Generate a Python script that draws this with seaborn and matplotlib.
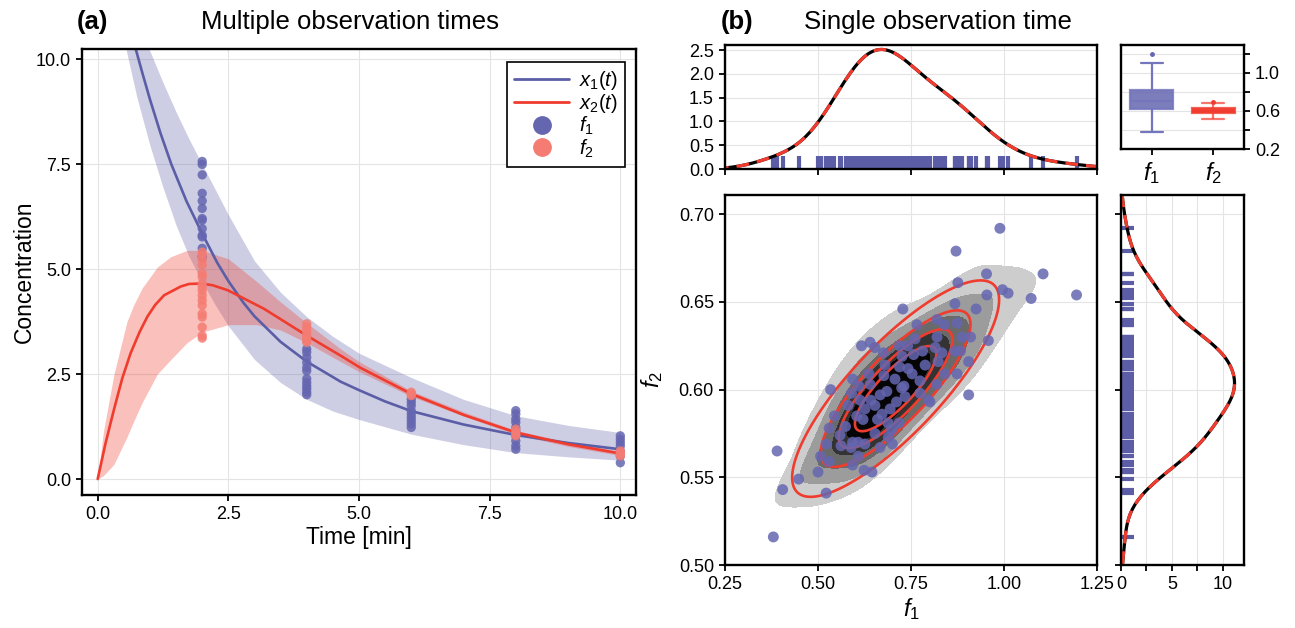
import numpy as np
import pandas as pd
import matplotlib
matplotlib.use("Agg")
import matplotlib.pyplot as plt
import seaborn as sns
from matplotlib.lines import Line2D
from matplotlib.colors import ListedColormap

# ---- panel (a): model curves and bands ----
t_x1 = [0.6, 0.73, 0.85, 1.0, 1.2, 1.41, 1.7, 2.0, 2.29, 2.5, 2.79, 3.0, 3.5, 4.0, 4.65, 5.0, 5.5, 6.0, 7.0, 8.0, 9.0, 10.0]
x1_mean = [10.85, 10.24, 9.7, 9.05, 8.25, 7.5, 6.62, 5.85, 5.15, 4.72, 4.2, 3.88, 3.27, 2.8, 2.32, 2.12, 1.85, 1.62, 1.30, 1.05, 0.86, 0.71]

t_x2 = [0, 0.15, 0.31, 0.47, 0.63, 0.8, 0.95, 1.1, 1.27, 1.59, 1.75, 1.97, 2.2, 2.49, 3.18, 4.0, 4.65, 5.03, 6.0, 7.0, 8.0, 9.0, 10.0]
x2_mean = [0, 0.85, 1.65, 2.4, 3.0, 3.5, 3.87, 4.15, 4.38, 4.59, 4.65, 4.66, 4.62, 4.50, 4.06, 3.42, 2.94, 2.65, 2.03, 1.53, 1.11, 0.83, 0.61]

t_band1 = [0.55, 0.75, 1.0, 1.25, 1.5, 1.75, 2.0, 2.25, 2.5, 3.0, 3.5, 4.0, 4.5, 5.0, 6.0, 7.0, 8.0, 9.0, 10.0]
x1_lo = [10.2, 9.1, 7.95, 6.95, 6.05, 5.3, 4.7, 4.15, 3.65, 2.85, 2.3, 1.9, 1.62, 1.42, 1.07, 0.82, 0.63, 0.53, 0.45]
x1_hi = [11.6, 10.9, 10.2, 9.45, 8.75, 8.1, 7.5, 6.9, 6.3, 5.2, 4.45, 3.87, 3.4, 3.0, 2.42, 1.9, 1.51, 1.28, 1.11]

t_band2 = [0, 0.11, 0.31, 0.56, 0.69, 0.85, 1.14, 1.4, 1.71, 2.0, 2.5, 3.05, 3.5, 4.0, 4.65, 5.0, 6.0, 7.0, 8.0, 9.0, 10.0]
x2_lo = [0, 0.08, 0.35, 1.0, 1.38, 1.82, 2.5, 2.85, 3.25, 3.5, 3.68, 3.68, 3.55, 3.25, 2.8, 2.56, 1.97, 1.5, 1.06, 0.78, 0.56]
x2_hi = [0, 1.13, 2.49, 3.75, 4.15, 4.55, 5.05, 5.3, 5.45, 5.45, 5.25, 4.70, 4.22, 3.72, 3.1, 2.8, 2.1, 1.6, 1.16, 0.88, 0.66]

# observations per time point
obs_f1 = {
    2: [7.57, 7.50, 7.25, 6.81, 6.63, 6.45, 6.21, 6.17, 5.97, 5.81, 5.77, 5.50, 5.30],
    4: [3.10, 3.02, 2.90, 2.78, 2.66, 2.58, 2.39, 2.30, 2.22, 2.15, 2.07, 2.01],
    6: [1.91, 1.83, 1.75, 1.63, 1.55, 1.47, 1.39, 1.31, 1.23],
    8: [1.63, 1.55, 1.43, 1.35, 1.23, 1.15, 1.03, 0.91, 0.79, 0.71],
    10: [1.03, 0.95, 0.87, 0.79, 0.67, 0.55, 0.39],
}
obs_f2 = {
    2: [5.41, 5.33, 5.22, 5.10, 4.90, 4.82, 4.66, 4.58, 4.50, 4.38, 4.26, 4.14, 3.94, 3.86, 3.62, 3.42, 3.36],
    4: [3.70, 3.62, 3.54, 3.46, 3.38, 3.30, 3.26],
    6: [2.07, 2.03, 1.99],
    8: [1.19, 1.13, 1.07, 1.03],
    10: [0.67, 0.63, 0.59, 0.55],
}

# ---- panel (b): single observation time samples ----
f1_obs = [0.989, 0.871, 0.953, 1.105, 1.195, 1.073, 0.876, 0.954, 0.996, 1.011,
          0.728, 0.868, 0.925, 0.874, 0.766, 0.820, 0.840, 0.887, 0.910, 0.958,
          0.820, 0.883, 0.905, 0.874, 0.905, 0.841, 0.819, 0.801, 0.833, 0.815,
          0.617, 0.640, 0.653, 0.676, 0.719, 0.741, 0.757, 0.781, 0.726, 0.534,
          0.593, 0.637, 0.677, 0.719, 0.742, 0.774, 0.731, 0.685, 0.642, 0.711,
          0.734, 0.797, 0.774, 0.590, 0.610, 0.544, 0.530, 0.574, 0.621, 0.660,
          0.688, 0.718, 0.522, 0.562, 0.593, 0.653, 0.700, 0.507, 0.530, 0.589,
          0.608, 0.593, 0.500, 0.624, 0.645, 0.448, 0.390, 0.405, 0.522, 0.380,
          0.604, 0.698, 0.689, 0.608, 0.823, 0.868, 0.725,
          0.667, 0.653, 0.626, 0.694, 0.672, 0.640, 0.707, 0.613, 0.581, 0.559,
          0.626, 0.667, 0.753, 0.680, 0.788, 0.761]
f2_obs = [0.692, 0.679, 0.666, 0.666, 0.654, 0.652, 0.661, 0.654, 0.657, 0.655,
          0.646, 0.649, 0.646, 0.638, 0.637, 0.640, 0.637, 0.630, 0.630, 0.628,
          0.630, 0.622, 0.616, 0.609, 0.597, 0.609, 0.603, 0.593, 0.621, 0.624,
          0.625, 0.627, 0.624, 0.621, 0.625, 0.625, 0.620, 0.622, 0.619, 0.600,
          0.606, 0.609, 0.608, 0.613, 0.612, 0.605, 0.602, 0.599, 0.594, 0.593,
          0.596, 0.594, 0.598, 0.598, 0.602, 0.585, 0.578, 0.579, 0.583, 0.583,
          0.581, 0.581, 0.569, 0.568, 0.570, 0.575, 0.569, 0.562, 0.559, 0.567,
          0.562, 0.557, 0.553, 0.554, 0.553, 0.549, 0.565, 0.543, 0.541, 0.516,
          0.585, 0.577, 0.573, 0.570, 0.616, 0.622, 0.601,
          0.597, 0.591, 0.589, 0.589, 0.586, 0.603, 0.606, 0.594, 0.591, 0.574,
          0.569, 0.567, 0.609, 0.614, 0.614, 0.629]

BLUE = "#5b5ea6"
BLUE_PT = "#6566b0"
RED = "#f03c2e"
PINK_PT = "#f47c73"
GREYS = ["#cdcdcd", "#9c9c9c", "#6a6a6a", "#333333", "#050505"]

sns.set_theme(style="ticks")
plt.rcParams["font.family"] = ["Liberation Sans", "DejaVu Sans"]
plt.rcParams["mathtext.fontset"] = "custom"
plt.rcParams["mathtext.it"] = "Liberation Sans:italic"
plt.rcParams["mathtext.rm"] = "Liberation Sans"
plt.rcParams["text.color"] = "black"
plt.rcParams["axes.labelcolor"] = "black"
plt.rcParams["axes.edgecolor"] = "black"
plt.rcParams["axes.linewidth"] = 1.7
plt.rcParams["xtick.color"] = "black"
plt.rcParams["ytick.color"] = "black"
plt.rcParams["xtick.major.width"] = 1.3
plt.rcParams["ytick.major.width"] = 1.3
plt.rcParams["xtick.major.size"] = 4.5
plt.rcParams["ytick.major.size"] = 4.5

W, H = 1295, 628
fig = plt.figure(figsize=(W / 100, H / 100), dpi=100)


def px_axes(l, r, t, b):
    return fig.add_axes([l / W, 1 - b / H, (r - l) / W, (b - t) / H])


def style_grid(ax):
    ax.grid(True, color="#e4e4e4", lw=0.8)
    ax.set_axisbelow(True)


TICK = 13

# ================= panel (a) =================
ax = px_axes(82, 636, 49, 495)
style_grid(ax)
ax.fill_between(t_band1, x1_lo, x1_hi, color=BLUE, alpha=0.3, lw=0)
ax.fill_between(t_band2, x2_lo, x2_hi, color=RED, alpha=0.32, lw=0)

rows = []
for t, vals in obs_f1.items():
    rows += [(t, v, "f1") for v in vals]
for t, vals in obs_f2.items():
    rows += [(t, v, "f2") for v in vals]
obs_df = pd.DataFrame(rows, columns=["time", "conc", "obs"])

sns.lineplot(x=t_x1, y=x1_mean, color=BLUE, lw=1.9, ax=ax, sort=False)
sns.lineplot(x=t_x2, y=x2_mean, color=RED, lw=1.9, ax=ax, sort=False)
sns.scatterplot(data=obs_df, x="time", y="conc", hue="obs", palette={"f1": BLUE_PT, "f2": PINK_PT},
                s=45, alpha=0.85, edgecolor="none", ax=ax, legend=False, zorder=4)

ax.set_xlim(-0.3, 10.3)
ax.set_ylim(-0.38, 10.25)
ax.set_xticks([0, 2.5, 5, 7.5, 10])
ax.set_yticks([0, 2.5, 5, 7.5, 10])
ax.set_xticklabels(["0.0", "2.5", "5.0", "7.5", "10.0"])
ax.set_yticklabels(["0.0", "2.5", "5.0", "7.5", "10.0"])
ax.tick_params(labelsize=TICK)
ax.set_xlabel("Time [min]", fontsize=16.5, labelpad=2)
ax.set_ylabel("Concentration", fontsize=16.5, labelpad=0)

handles = [
    Line2D([], [], color=BLUE, lw=2),
    Line2D([], [], color=RED, lw=2),
    Line2D([], [], color=BLUE_PT, marker="o", ls="none", ms=12.5),
    Line2D([], [], color=PINK_PT, marker="o", ls="none", ms=12.5),
]
leg = ax.legend(handles, ["$x_1(t)$", "$x_2(t)$", "$f_1$", "$f_2$"], loc="upper right",
                fontsize=14.5, frameon=True, fancybox=False, framealpha=1,
                handlelength=2.7, labelspacing=0.0, borderpad=0.35, handletextpad=0.5,
                borderaxespad=0, bbox_to_anchor=(0.98, 0.971))
leg.get_frame().set_edgecolor("black")
leg.get_frame().set_linewidth(1.2)

fig.text(77 / W, 1 - 22 / H, "(a)", fontsize=18.5, fontweight="bold", va="center", ha="left")
fig.text(350 / W, 1 - 22 / H, "Multiple observation times", fontsize=18.5, va="center", ha="center")

# ================= panel (b) =================
ax_j = px_axes(725, 1097, 195, 565)
ax_t = px_axes(725, 1097, 45, 169)
ax_r = px_axes(1121, 1244, 195, 565)
ax_b = px_axes(1121, 1244, 45, 149)

for a in (ax_j, ax_t, ax_r, ax_b):
    style_grid(a)

joint_df = pd.DataFrame({"f1": f1_obs, "f2": f2_obs})

# joint: KDE fill, gaussian ellipses, samples
sns.kdeplot(data=joint_df, x="f1", y="f2", fill=True, levels=[0.14, 0.3, 0.46, 0.62, 0.78, 1.0],
            cmap=ListedColormap(GREYS), ax=ax_j)

# gaussian fit of the samples (trimmed once to damp the outliers)
pts = joint_df[["f1", "f2"]].to_numpy()
mu = pts.mean(axis=0)
cov = np.cov(pts.T)
md = np.einsum("ij,jk,ik->i", pts - mu, np.linalg.inv(cov), pts - mu)
core = pts[md < 4.6]
mu = core.mean(axis=0)
cov = np.cov(core.T)

gx, gy = np.meshgrid(np.linspace(0.25, 1.25, 400), np.linspace(0.5, 0.72, 400))
d = np.dstack([gx - mu[0], gy - mu[1]])
m2 = np.einsum("...i,ij,...j->...", d, np.linalg.inv(cov), d)
peak = 1 / (2 * np.pi * np.sqrt(np.linalg.det(cov)))
pdf = peak * np.exp(-0.5 * m2)
ax_j.contour(gx, gy, pdf, levels=[0.1 * peak, 0.3 * peak, 0.5 * peak, 0.7 * peak],
             colors=RED, linewidths=1.9)

sns.scatterplot(data=joint_df, x="f1", y="f2", color=BLUE_PT, s=62, alpha=0.85,
                edgecolor="none", ax=ax_j, zorder=5)
ax_j.set_xlim(0.25, 1.25)
ax_j.set_ylim(0.5, 0.711)
ax_j.set_xticks([0.25, 0.5, 0.75, 1.0, 1.25])
ax_j.set_xticklabels(["0.25", "0.50", "0.75", "1.00", "1.25"])
ax_j.set_yticks([0.5, 0.55, 0.6, 0.65, 0.7])
ax_j.set_yticklabels(["0.50", "0.55", "0.60", "0.65", "0.70"])
ax_j.tick_params(labelsize=TICK)
ax_j.set_xlabel("$f_1$", fontsize=17, labelpad=2)
ax_j.set_ylabel("$f_2$", fontsize=17, labelpad=10)

# top marginal
sns.rugplot(data=joint_df, x="f1", ax=ax_t, height=0.105, color=BLUE, linewidth=3)
sns.kdeplot(data=joint_df, x="f1", ax=ax_t, color="black", lw=2.3, bw_adjust=1.15)
sns.kdeplot(data=joint_df, x="f1", ax=ax_t, color=RED, lw=2.3, bw_adjust=1.15, ls=(0, (4, 2.5)))
ax_t.set_xlim(0.25, 1.25)
ax_t.set_ylim(0, 2.61)
ax_t.set_xticks([0.25, 0.5, 0.75, 1.0, 1.25])
ax_t.set_xticklabels([])
ax_t.set_yticks([0, 0.5, 1.0, 1.5, 2.0, 2.5])
ax_t.set_yticklabels(["0.0", "0.5", "1.0", "1.5", "2.0", "2.5"])
ax_t.tick_params(labelsize=TICK)
ax_t.set_xlabel("")
ax_t.set_ylabel("")

# right marginal
sns.rugplot(data=joint_df, y="f2", ax=ax_r, height=0.105, color=BLUE, linewidth=3)
sns.kdeplot(data=joint_df, y="f2", ax=ax_r, color="black", lw=2.3)
sns.kdeplot(data=joint_df, y="f2", ax=ax_r, color=RED, lw=2.3, ls=(0, (4, 2.5)))
ax_r.set_ylim(0.5, 0.711)
ax_r.set_xlim(0, 12.1)
ax_r.set_yticks([0.5, 0.55, 0.6, 0.65, 0.7])
ax_r.set_yticklabels([])
ax_r.set_xticks([0, 2.5, 5, 7.5, 10])
ax_r.set_xticklabels(["0", "", "5", "", "10"])
ax_r.tick_params(labelsize=TICK)
ax_r.set_xlabel("")
ax_r.set_ylabel("")

# boxplot of both parameters
box_df = pd.DataFrame({"param": ["f1"] * len(f1_obs) + ["f2"] * len(f2_obs),
                       "value": f1_obs + f2_obs})
sns.boxplot(data=box_df[box_df.param == "f1"], x="param", y="value", order=["f1", "f2"],
            color=BLUE_PT, linecolor="#7476bd", saturation=1, width=0.7, linewidth=1.6,
            fliersize=2.5, flierprops=dict(marker="o", markerfacecolor=BLUE_PT, markeredgecolor=BLUE_PT),
            boxprops=dict(alpha=0.85), ax=ax_b)
sns.boxplot(data=box_df[box_df.param == "f2"], x="param", y="value", order=["f1", "f2"],
            color=RED, linecolor=RED, saturation=1, width=0.7, linewidth=1.6,
            fliersize=2.5, flierprops=dict(marker="o", markerfacecolor=RED, markeredgecolor=RED),
            boxprops=dict(alpha=0.8), whiskerprops=dict(alpha=0.7), capprops=dict(alpha=0.7),
            medianprops=dict(lw=2.6), ax=ax_b)
ax_b.set_xlim(-0.5, 1.5)
ax_b.set_ylim(0.2, 1.29)
ax_b.yaxis.tick_right()
ax_b.set_yticks([0.2, 0.4, 0.6, 0.8, 1.0, 1.2])
ax_b.set_yticklabels(["0.2", "", "0.6", "", "1.0", ""])
ax_b.set_xticks([0, 1])
ax_b.set_xticklabels(["$f_1$", "$f_2$"], fontsize=17)
ax_b.tick_params(axis="y", labelsize=TICK)
ax_b.set_xlabel("")
ax_b.set_ylabel("")

fig.text(721 / W, 1 - 22 / H, "(b)", fontsize=18.5, fontweight="bold", va="center", ha="left")
fig.text(938 / W, 1 - 22 / H, "Single observation time", fontsize=18.5, va="center", ha="center")

fig.savefig("out.png", dpi=100)
